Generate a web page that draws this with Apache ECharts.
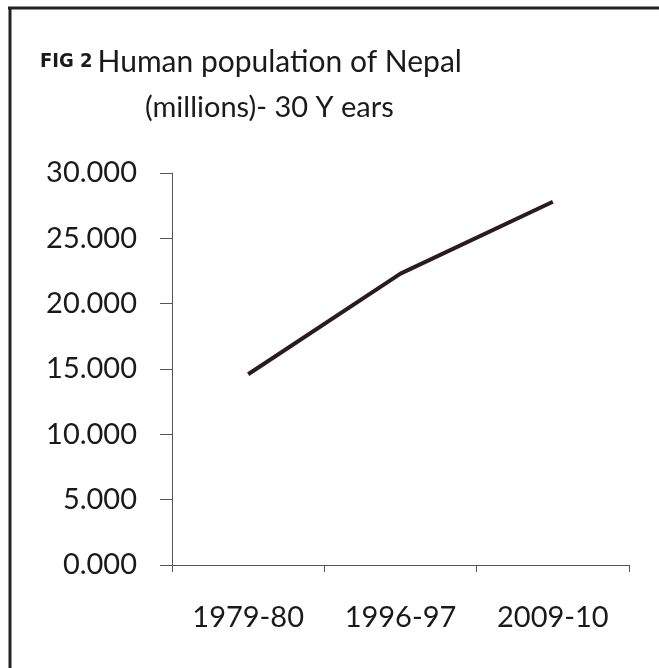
<!DOCTYPE html>
<html>
<head>
<meta charset="utf-8">
<script src="https://cdn.jsdelivr.net/npm/echarts@6/dist/echarts.min.js"></script>
<style>
  html, body { margin: 0; padding: 0; background: #fff; }
  #chart { width: 659px; height: 668px; }
</style>
</head>
<body>
<div id="chart"></div>
<script>
// population in millions
const years = ["1979-80", "1996-97", "2009-10"];
const population = [14.6, 22.3, 27.8];
const yTicks = [0, 5, 10, 15, 20, 25, 30];

const myChart = echarts.init(document.getElementById("chart"));
const font = "Lato, 'Open Sans', sans-serif";

const option = {
  backgroundColor: "#fff",
  animation: false,
  title: [
    {
      left: 35,
      top: 42,
      text: "{fig|FIG 2} {main|Human population of Nepal}",
      textStyle: {
        rich: {
          fig: { fontFamily: "'Liberation Sans Narrow', 'DejaVu Sans Condensed', sans-serif", fontWeight: "bold", fontSize: 20, color: "#1a1a1a" },
          main: { fontFamily: font, fontWeight: "normal", fontSize: 30, color: "#1a1a1a" }
        }
      }
    },
    {
      left: 140,
      top: 88,
      text: "(millions)- 30 Y ears",
      textStyle: { fontFamily: font, fontSize: 29, fontWeight: "normal", color: "#1a1a1a" }
    }
  ],
  graphic: [
    // frame top and left edges
    { type: "line", shape: { x1: 8, y1: 8, x2: 659, y2: 8 }, style: { stroke: "#222", lineWidth: 3 } },
    { type: "line", shape: { x1: 10, y1: 8, x2: 10, y2: 668 }, style: { stroke: "#222", lineWidth: 3 } }
  ],
  grid: { left: 172, right: 30, top: 173, bottom: 103 },
  xAxis: {
    type: "category",
    data: years,
    boundaryGap: true,
    axisLine: { lineStyle: { color: "#555", width: 1 } },
    axisTick: { show: true, length: 7, alignWithLabel: false, lineStyle: { color: "#555" } },
    axisLabel: { margin: 38, fontFamily: font, fontSize: 29, color: "#1a1a1a" }
  },
  yAxis: {
    type: "value",
    min: yTicks[0],
    max: yTicks[yTicks.length - 1],
    interval: 5,
    splitLine: { show: false },
    axisLine: { show: true, lineStyle: { color: "#555", width: 1 } },
    axisTick: { show: true, length: 12, lineStyle: { color: "#555" } },
    axisLabel: {
      margin: 35,
      fontFamily: font,
      fontSize: 29,
      color: "#1a1a1a",
      formatter: v => v.toFixed(3)
    }
  },
  series: [
    {
      type: "line",
      data: population,
      symbol: "none",
      lineStyle: { color: "#2b1b20", width: 4 }
    }
  ]
};
myChart.setOption(option);
</script>
</body>
</html>
